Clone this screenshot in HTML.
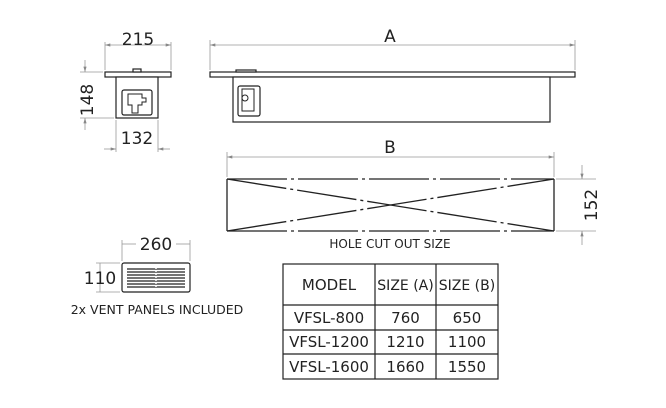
<!DOCTYPE html>
<html><head><meta charset="utf-8"><style>
html,body{margin:0;padding:0;background:#fff;}
svg{display:block;}
text{font-family:"DejaVu Sans","Liberation Sans",sans-serif;fill:#222;}
</style></head><body>
<svg width="666" height="408" viewBox="0 0 666 408" xmlns="http://www.w3.org/2000/svg">
<defs>
<marker id="ar" viewBox="0 0 10 6" refX="10" refY="3" markerWidth="8" markerHeight="4" orient="auto-start-reverse"><path d="M0,0 L10,3 L0,6 z" fill="#888"/></marker>
</defs>
<g stroke="#999" stroke-width="0.8" fill="none">
<line x1="105" y1="42" x2="105" y2="70"/><line x1="171" y1="42" x2="171" y2="70"/>
<line x1="105" y1="45" x2="171" y2="45" marker-start="url(#ar)" marker-end="url(#ar)"/>
<line x1="80" y1="72" x2="103" y2="72"/><line x1="80" y1="118" x2="114" y2="118"/>
<line x1="85" y1="60" x2="85" y2="72" marker-end="url(#ar)"/><line x1="85" y1="130" x2="85" y2="118" marker-end="url(#ar)"/>
<line x1="116" y1="120" x2="116" y2="152"/><line x1="158" y1="120" x2="158" y2="152"/>
<line x1="104" y1="149" x2="116" y2="149" marker-end="url(#ar)"/><line x1="170" y1="149" x2="158" y2="149" marker-end="url(#ar)"/>
<line x1="210" y1="40" x2="210" y2="70"/><line x1="575" y1="40" x2="575" y2="70"/>
<line x1="210" y1="45" x2="575" y2="45" marker-start="url(#ar)" marker-end="url(#ar)"/>
<line x1="227" y1="152" x2="227" y2="177"/><line x1="554" y1="152" x2="554" y2="177"/>
<line x1="227" y1="157" x2="554" y2="157" marker-start="url(#ar)" marker-end="url(#ar)"/>
<line x1="556" y1="179" x2="596" y2="179"/><line x1="556" y1="231" x2="596" y2="231"/>
<line x1="582" y1="165" x2="582" y2="179" marker-end="url(#ar)"/><line x1="582" y1="245" x2="582" y2="231" marker-end="url(#ar)"/>
<line x1="122" y1="240" x2="122" y2="261"/><line x1="190" y1="240" x2="190" y2="261"/>
<line x1="122" y1="244" x2="136" y2="244"/><line x1="176" y1="244" x2="190" y2="244"/>
<line x1="96" y1="263" x2="120" y2="263"/><line x1="96" y1="292" x2="120" y2="292"/>
<line x1="100" y1="263" x2="100" y2="292"/>
</g>
<g stroke="#222" stroke-width="1.2" fill="#fff">
<rect x="105" y="72" width="66" height="5"/>
<rect x="116" y="77" width="42" height="41"/>
<rect x="122" y="90" width="30" height="25" rx="2"/>
<path d="M128 94 h14 v4 h4 v4 h-4 v3 h-4 v8 h-6 v-8 h-4 z" fill="none" stroke-width="1"/>
<rect x="133" y="69" width="8" height="3"/>
<rect x="210" y="72" width="365" height="5"/>
<rect x="233" y="77" width="317" height="45"/>
<rect x="238" y="86" width="22" height="30" rx="2"/>
<rect x="242" y="89" width="12" height="22" fill="none" stroke-width="1"/>
<circle cx="245" cy="98" r="3" fill="none" stroke-width="1"/>
<rect x="236" y="70" width="20" height="2"/>
<rect x="122" y="263" width="68" height="29" rx="2"/>
</g>
<g stroke="#222" stroke-width="1.2">
<line x1="127" y1="269" x2="185" y2="269"/><line x1="127" y1="272" x2="185" y2="272"/><line x1="127" y1="275" x2="185" y2="275"/><line x1="127" y1="278" x2="185" y2="278"/><line x1="127" y1="281" x2="185" y2="281"/><line x1="127" y1="284" x2="185" y2="284"/><line x1="127" y1="287" x2="185" y2="287"/>
</g>
<line x1="156" y1="267" x2="156" y2="289" stroke="#fff" stroke-width="1.5" stroke-dasharray="2,1"/>
<g stroke="#222" stroke-width="1.3" fill="none" stroke-dasharray="60,4,3,4">
<line x1="227" y1="179" x2="554" y2="179"/><line x1="227" y1="231" x2="554" y2="231"/>
<line x1="227" y1="179" x2="227" y2="231"/><line x1="554" y1="179" x2="554" y2="231"/>
<line x1="227" y1="179" x2="554" y2="231"/><line x1="227" y1="231" x2="554" y2="179"/>
</g>
<g style="fill:#333">
<text x="138" y="45" font-size="17" text-anchor="middle">215</text>
<text x="137" y="144" font-size="17" text-anchor="middle">132</text>
<text transform="translate(93,100) rotate(-90)" font-size="17" text-anchor="middle">148</text>
<text x="390" y="42" font-size="17" text-anchor="middle">A</text>
<text x="390" y="153" font-size="17" text-anchor="middle">B</text>
<text transform="translate(597,205) rotate(-90)" font-size="17" text-anchor="middle">152</text>
<text x="156" y="250" font-size="17" text-anchor="middle">260</text>
<text x="100" y="284" font-size="17" text-anchor="middle">110</text>
</g>
<text x="390" y="248" font-size="12" text-anchor="middle">HOLE CUT OUT SIZE</text>
<text x="157" y="314" font-size="12.5" text-anchor="middle">2x VENT PANELS INCLUDED</text>
<g stroke="#222" stroke-width="1.2" fill="none">
<rect x="283" y="264" width="215" height="115"/>
<line x1="283" y1="305" x2="498" y2="305"/><line x1="283" y1="330" x2="498" y2="330"/><line x1="283" y1="354" x2="498" y2="354"/>
<line x1="375" y1="264" x2="375" y2="379"/><line x1="436" y1="264" x2="436" y2="379"/>
</g>
<g font-size="15" text-anchor="middle">
<text x="329" y="290">MODEL</text><text x="405.5" y="290" font-size="14">SIZE (A)</text><text x="467" y="290" font-size="14">SIZE (B)</text>
<text x="329" y="323">VFSL-800</text><text x="405.5" y="323">760</text><text x="467" y="323">650</text>
<text x="329" y="347">VFSL-1200</text><text x="405.5" y="347">1210</text><text x="467" y="347">1100</text>
<text x="329" y="372">VFSL-1600</text><text x="405.5" y="372">1660</text><text x="467" y="372">1550</text>
</g>
</svg>
</body></html>
